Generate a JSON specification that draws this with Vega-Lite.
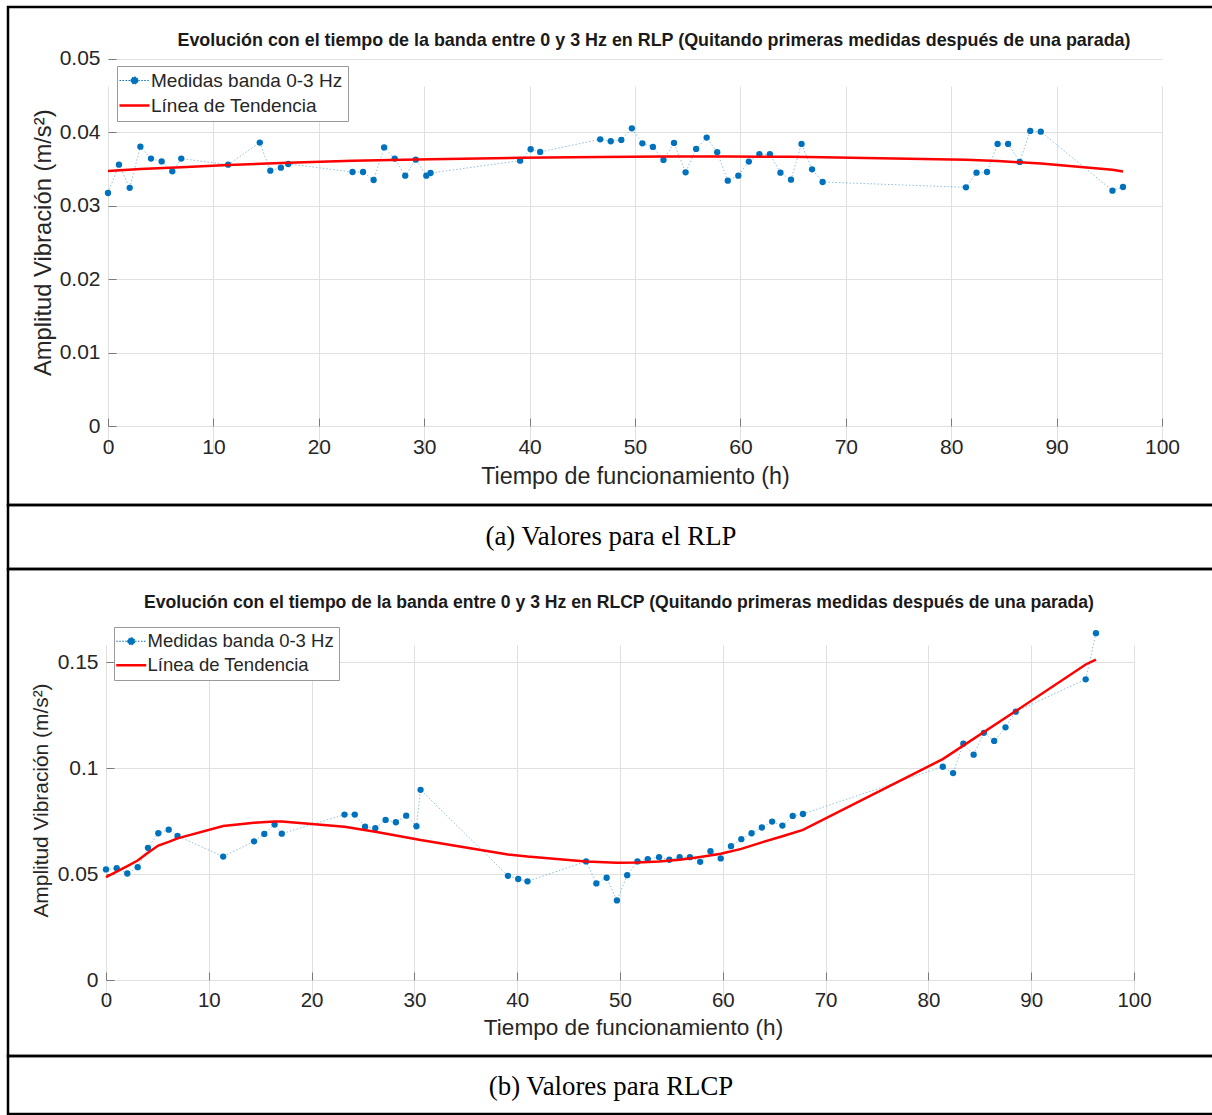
{
  "$schema": "https://vega.github.io/schema/vega-lite/v6.json",
  "background": "white",
  "padding": {"left": 6, "top": 5, "right": 0, "bottom": 0},
  "spacing": 0,
  "bounds": "flush",
  "config": {
    "font": "Liberation Sans",
    "view": {"stroke": "black", "strokeWidth": 2.5},
    "axis": {
      "labelFont": "Liberation Sans",
      "labelColor": "#262626",
      "titleFont": "Liberation Sans",
      "titleColor": "#262626",
      "titleFontWeight": "normal",
      "gridColor": "#e0e0e0",
      "gridWidth": 1,
      "domain": false,
      "tickColor": "#7a7a7a",
      "tickSize": -8,
      "labelPadding": 18,
      "labelFlush": false
    },
    "legend": {
      "orient": "none",
      "labelFont": "Liberation Sans",
      "labelColor": "#262626",
      "labelLimit": 500,
      "strokeColor": "#9a9a9a",
      "fillColor": "white",
      "padding": 5,
      "rowPadding": 5,
      "symbolSize": 900,
      "symbolOffset": 3,
      "labelOffset": 7,
      "title": null,
      "symbolType": {"expr": "datum.value === 'Medidas banda 0-3 Hz' ? 'M-1,0H-0.25M0.25,0H1M-0.24,0A0.24,0.24,0,1,0,0.24,0A0.24,0.24,0,1,0,-0.24,0Z' : 'stroke'"},
      "symbolStrokeWidth": {"expr": "datum.value === 'Medidas banda 0-3 Hz' ? 1 : 2.5"},
      "symbolDash": {"expr": "datum.value === 'Medidas banda 0-3 Hz' ? [1.5, 1.5] : [1, 0]"}
    }
  },
  "datasets": {
    "rlp": [
      {"t": 0, "v": 0.0317}, {"t": 1.04, "v": 0.03556}, {"t": 2.06, "v": 0.0324}, {"t": 3.07, "v": 0.038},
      {"t": 4.08, "v": 0.03638}, {"t": 5.09, "v": 0.036}, {"t": 6.1, "v": 0.03465}, {"t": 6.95, "v": 0.03638},
      {"t": 11.4, "v": 0.03556}, {"t": 14.4, "v": 0.03856}, {"t": 15.4, "v": 0.03474}, {"t": 16.4, "v": 0.03515},
      {"t": 17.1, "v": 0.03565}, {"t": 23.2, "v": 0.03456}, {"t": 24.2, "v": 0.03456}, {"t": 25.2, "v": 0.03347},
      {"t": 26.2, "v": 0.0379}, {"t": 27.2, "v": 0.03638}, {"t": 28.2, "v": 0.03406}, {"t": 29.2, "v": 0.03624},
      {"t": 30.2, "v": 0.03406}, {"t": 30.6, "v": 0.03442}, {"t": 39.1, "v": 0.0361}, {"t": 40.1, "v": 0.03765},
      {"t": 41.0, "v": 0.03729}, {"t": 46.7, "v": 0.039}, {"t": 47.7, "v": 0.03874}, {"t": 48.7, "v": 0.03892},
      {"t": 49.7, "v": 0.0405}, {"t": 50.7, "v": 0.03846}, {"t": 51.7, "v": 0.03797}, {"t": 52.7, "v": 0.0362},
      {"t": 53.7, "v": 0.03851}, {"t": 54.8, "v": 0.03451}, {"t": 55.8, "v": 0.0377}, {"t": 56.8, "v": 0.03924},
      {"t": 57.8, "v": 0.03724}, {"t": 58.8, "v": 0.03338}, {"t": 59.8, "v": 0.03406}, {"t": 60.8, "v": 0.03597},
      {"t": 61.8, "v": 0.037}, {"t": 62.8, "v": 0.03697}, {"t": 63.8, "v": 0.03447}, {"t": 64.8, "v": 0.03351},
      {"t": 65.8, "v": 0.03838}, {"t": 66.8, "v": 0.03492}, {"t": 67.8, "v": 0.0332}, {"t": 81.4, "v": 0.03247},
      {"t": 82.4, "v": 0.03447}, {"t": 83.4, "v": 0.03456}, {"t": 84.4, "v": 0.03838}, {"t": 85.4, "v": 0.03838},
      {"t": 86.5, "v": 0.03593}, {"t": 87.5, "v": 0.04015}, {"t": 88.5, "v": 0.04005}, {"t": 95.3, "v": 0.03202},
      {"t": 96.3, "v": 0.03252}
    ],
    "rlp_tend": [
      {"t": 0, "v": 0.03468}, {"t": 3.07, "v": 0.03495}, {"t": 6.95, "v": 0.03522}, {"t": 11.4, "v": 0.03552},
      {"t": 17.1, "v": 0.03582}, {"t": 23.2, "v": 0.03608}, {"t": 30.6, "v": 0.0363}, {"t": 39.1, "v": 0.03648},
      {"t": 46.7, "v": 0.0366}, {"t": 52.7, "v": 0.03666}, {"t": 58.8, "v": 0.03666}, {"t": 64.8, "v": 0.03662},
      {"t": 67.8, "v": 0.03658}, {"t": 81.4, "v": 0.03622}, {"t": 84.4, "v": 0.03605}, {"t": 88.5, "v": 0.03572},
      {"t": 95.3, "v": 0.03485}, {"t": 96.3, "v": 0.03462}
    ],
    "rlcp": [
      {"t": 0, "v": 0.0522}, {"t": 1.04, "v": 0.0528}, {"t": 2.07, "v": 0.0503}, {"t": 3.08, "v": 0.0533},
      {"t": 4.08, "v": 0.0624}, {"t": 5.09, "v": 0.0693}, {"t": 6.1, "v": 0.071}, {"t": 6.96, "v": 0.068},
      {"t": 11.4, "v": 0.0583}, {"t": 14.4, "v": 0.0655}, {"t": 15.4, "v": 0.069}, {"t": 16.4, "v": 0.0734},
      {"t": 17.1, "v": 0.0691}, {"t": 23.2, "v": 0.0781}, {"t": 24.2, "v": 0.0781}, {"t": 25.2, "v": 0.0724},
      {"t": 26.2, "v": 0.0717}, {"t": 27.2, "v": 0.0756}, {"t": 28.2, "v": 0.0745}, {"t": 29.2, "v": 0.0776},
      {"t": 30.2, "v": 0.0726}, {"t": 30.6, "v": 0.0898}, {"t": 39.1, "v": 0.0492}, {"t": 40.1, "v": 0.0477},
      {"t": 41.0, "v": 0.0466}, {"t": 46.7, "v": 0.056}, {"t": 47.7, "v": 0.0456}, {"t": 48.7, "v": 0.0483},
      {"t": 49.7, "v": 0.0376}, {"t": 50.7, "v": 0.0495}, {"t": 51.7, "v": 0.056}, {"t": 52.7, "v": 0.0571},
      {"t": 53.8, "v": 0.058}, {"t": 54.8, "v": 0.0568}, {"t": 55.8, "v": 0.058}, {"t": 56.8, "v": 0.058},
      {"t": 57.8, "v": 0.0558}, {"t": 58.8, "v": 0.0608}, {"t": 59.8, "v": 0.0574}, {"t": 60.8, "v": 0.0632},
      {"t": 61.8, "v": 0.0665}, {"t": 62.8, "v": 0.0693}, {"t": 63.8, "v": 0.072}, {"t": 64.8, "v": 0.0748},
      {"t": 65.8, "v": 0.0729}, {"t": 66.8, "v": 0.0775}, {"t": 67.8, "v": 0.0784}, {"t": 81.4, "v": 0.1007},
      {"t": 82.4, "v": 0.0977}, {"t": 83.4, "v": 0.1116}, {"t": 84.4, "v": 0.1064}, {"t": 85.4, "v": 0.1167},
      {"t": 86.4, "v": 0.1129}, {"t": 87.5, "v": 0.1193}, {"t": 88.5, "v": 0.1267}, {"t": 95.3, "v": 0.142},
      {"t": 96.3, "v": 0.1638}
    ],
    "rlcp_tend": [
      {"t": 0, "v": 0.0486}, {"t": 1.04, "v": 0.0512}, {"t": 2.07, "v": 0.0538}, {"t": 3.08, "v": 0.0564},
      {"t": 4.08, "v": 0.0601}, {"t": 5.09, "v": 0.0635}, {"t": 6.1, "v": 0.0652}, {"t": 6.96, "v": 0.0669},
      {"t": 11.4, "v": 0.0727}, {"t": 14.4, "v": 0.0743}, {"t": 16.4, "v": 0.0748}, {"t": 17.1, "v": 0.0748},
      {"t": 23.2, "v": 0.0724}, {"t": 26.2, "v": 0.07}, {"t": 30.2, "v": 0.0665}, {"t": 30.6, "v": 0.0661},
      {"t": 39.1, "v": 0.0593}, {"t": 41.0, "v": 0.0583}, {"t": 46.7, "v": 0.056}, {"t": 49.7, "v": 0.0554},
      {"t": 51.7, "v": 0.0555}, {"t": 53.8, "v": 0.056}, {"t": 55.8, "v": 0.0568}, {"t": 57.8, "v": 0.0581},
      {"t": 59.8, "v": 0.0596}, {"t": 61.8, "v": 0.0619}, {"t": 63.8, "v": 0.065}, {"t": 65.8, "v": 0.0679},
      {"t": 67.8, "v": 0.0709}, {"t": 81.4, "v": 0.1043}, {"t": 88.5, "v": 0.127}, {"t": 95.3, "v": 0.149},
      {"t": 96.3, "v": 0.1513}
    ]
  },
  "vconcat": [
    {
      "width": 1206,
      "height": 498,
      "title": {
        "text": "Evolución con el tiempo de la banda entre 0 y 3 Hz en RLP (Quitando primeras medidas después de una parada)",
        "font": "Liberation Sans", "fontSize": 17.9, "fontWeight": "bold", "color": "#1a1a1a",
        "anchor": "middle", "frame": "group", "offset": -52, "baseline": "middle", "dx": 43
      },
      "encoding": {
        "x": {"field": "t", "type": "quantitative",
              "scale": {"domain": [0, 100], "range": [100, 1154], "nice": false, "zero": false},
              "axis": {"title": "Tiempo de funcionamiento (h)", "values": [0,10,20,30,40,50,60,70,80,90,100],
                       "offset": -79, "labelFontSize": 21, "titleFontSize": 23.3, "titlePadding": 8}},
        "y": {"field": "v", "type": "quantitative",
              "scale": {"domain": [0, 0.05], "range": [419, 51.5], "nice": false},
              "axis": {"title": "Amplitud Vibración (m/s²)", "values": [0,0.01,0.02,0.03,0.04,0.05], "format": "~g",
                       "offset": -100, "labelFontSize": 21, "titleFontSize": 23.8, "titlePadding": 4, "labelPadding": 16}}
      },
      "layer": [
        {
          "mark": {"type": "rect", "filled": false, "stroke": "#a8a8a8", "strokeWidth": 1.2},
          "encoding": {
            "x": {"datum": 0, "type": "quantitative"}, "x2": {"datum": 100},
            "y": {"datum": 0, "type": "quantitative"}, "y2": {"datum": 0.05}
          }
        },
        {
          "data": {"name": "rlp"},
          "mark": {"type": "line", "color": "#0072bd", "strokeWidth": 1, "opacity": 0.45, "strokeDash": [1.5, 2]},
          "encoding": {}
        },
        {
          "data": {"name": "rlp"},
          "mark": {"type": "point", "filled": true, "size": 40, "opacity": 1},
          "encoding": {
            "color": {"datum": "Medidas banda 0-3 Hz", "type": "nominal",
              "scale": {"domain": ["Medidas banda 0-3 Hz", "Línea de Tendencia"], "range": ["#0072bd", "#ff0000"]},
              "legend": {"legendX": 109, "legendY": 59, "labelFontSize": 19}
            }
          }
        },
        {
          "data": {"name": "rlp_tend"},
          "mark": {"type": "line", "strokeWidth": 2.5},
          "encoding": {"color": {"datum": "Línea de Tendencia", "type": "nominal"}}
        }
      ]
    },
    {
      "width": 1206,
      "height": 64,
      "view": {"stroke": "black", "strokeWidth": 2.5},
      "data": {"values": [{"caption": "(a) Valores para el RLP"}]},
      "mark": {"type": "text", "font": "Liberation Serif", "fontSize": 26.8, "color": "black", "baseline": "middle"},
      "encoding": {
        "x": {"datum": 0.5, "type": "quantitative", "scale": {"domain": [0, 1]}, "axis": null},
        "y": {"datum": 0.5, "type": "quantitative", "scale": {"domain": [0, 1]}, "axis": null},
        "text": {"field": "caption"}
      }
    },
    {
      "width": 1206,
      "height": 487,
      "title": {
        "text": "Evolución con el tiempo de la banda entre 0 y 3 Hz en RLCP (Quitando primeras medidas después de una parada)",
        "font": "Liberation Sans", "fontSize": 17.6, "fontWeight": "bold", "color": "#1a1a1a",
        "anchor": "middle", "frame": "group", "offset": -52, "baseline": "middle", "dx": 8
      },
      "encoding": {
        "x": {"field": "t", "type": "quantitative",
              "scale": {"domain": [0, 100], "range": [98, 1126], "nice": false, "zero": false},
              "axis": {"title": "Tiempo de funcionamiento (h)", "values": [0,10,20,30,40,50,60,70,80,90,100],
                       "offset": -76, "labelFontSize": 20.5, "titleFontSize": 22.6, "titlePadding": 6, "titleX": 625}},
        "y": {"field": "v", "type": "quantitative",
              "scale": {"domain": [0, 0.17], "range": [411, 51], "nice": false},
              "axis": {"title": "Amplitud Vibración (m/s²)", "values": [0,0.05,0.1,0.15], "format": "~g",
                       "offset": -98, "labelFontSize": 21, "titleFontSize": 20.9, "titlePadding": 6, "labelPadding": 16}}
      },
      "layer": [
        {
          "mark": {"type": "rect", "filled": false, "stroke": "#a8a8a8", "strokeWidth": 1.2},
          "encoding": {
            "x": {"datum": 0, "type": "quantitative"}, "x2": {"datum": 100},
            "y": {"datum": 0, "type": "quantitative"}, "y2": {"datum": 0.17}
          }
        },
        {
          "data": {"name": "rlcp"},
          "mark": {"type": "line", "color": "#0072bd", "strokeWidth": 1, "opacity": 0.45, "strokeDash": [1.5, 2]},
          "encoding": {}
        },
        {
          "data": {"name": "rlcp"},
          "mark": {"type": "point", "filled": true, "size": 40, "opacity": 1},
          "encoding": {
            "color": {"datum": "Medidas banda 0-3 Hz", "type": "nominal",
              "scale": {"domain": ["Medidas banda 0-3 Hz", "Línea de Tendencia"], "range": ["#0072bd", "#ff0000"]},
              "legend": {"legendX": 106, "legendY": 58, "labelFontSize": 18.5}
            }
          }
        },
        {
          "data": {"name": "rlcp_tend"},
          "mark": {"type": "line", "strokeWidth": 2.5},
          "encoding": {"color": {"datum": "Línea de Tendencia", "type": "nominal"}}
        }
      ]
    },
    {
      "width": 1206,
      "height": 58,
      "view": {"stroke": "black", "strokeWidth": 2.5},
      "data": {"values": [{"caption": "(b) Valores para RLCP"}]},
      "mark": {"type": "text", "font": "Liberation Serif", "fontSize": 26.8, "color": "black", "baseline": "middle", "dy": 2},
      "encoding": {
        "x": {"datum": 0.5, "type": "quantitative", "scale": {"domain": [0, 1]}, "axis": null},
        "y": {"datum": 0.5, "type": "quantitative", "scale": {"domain": [0, 1]}, "axis": null},
        "text": {"field": "caption"}
      }
    }
  ],
  "resolve": {"scale": {"x": "independent", "y": "independent", "color": "independent"}, "legend": {"color": "independent"}}
}
